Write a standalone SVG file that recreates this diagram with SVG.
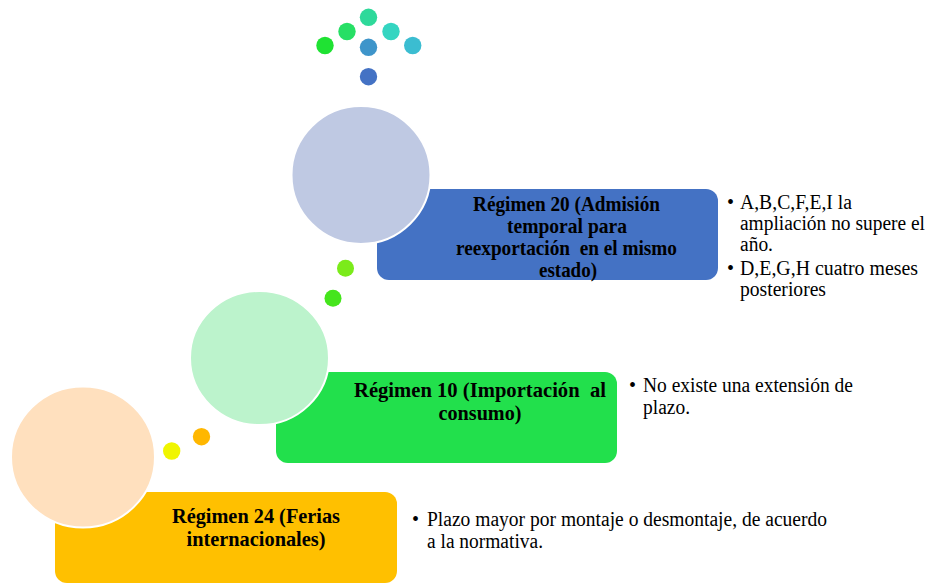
<svg xmlns="http://www.w3.org/2000/svg" width="931" height="583" viewBox="0 0 931 583">
<style>
.bold{font-family:'Liberation Serif','DejaVu Serif',serif;font-weight:700;font-size:21px;fill:#000;text-anchor:middle}
.bold2{font-family:'Liberation Serif','DejaVu Serif',serif;font-weight:700;font-size:22px;fill:#000;text-anchor:middle}
.reg{font-family:'Liberation Serif','DejaVu Serif',serif;font-size:20px;fill:#000}
.circ{stroke:#fff;stroke-width:2}
</style>
<rect width="931" height="583" fill="#fff"/>
<g id="connectors">
<circle cx="325" cy="45.5" r="8.7" fill="#1FE233"/>
<circle cx="347" cy="31.5" r="8.7" fill="#27DF65"/>
<circle cx="368.5" cy="17.3" r="8.7" fill="#2ED99A"/>
<circle cx="391" cy="31.5" r="8.7" fill="#34D5C1"/>
<circle cx="412.7" cy="45.5" r="8.7" fill="#3BBDD1"/>
<circle cx="368.5" cy="47.3" r="8.7" fill="#3E95CA"/>
<circle cx="368.5" cy="76.7" r="8.7" fill="#4472C4"/>
<circle cx="345.5" cy="268.3" r="8.5" fill="#7BEB1A"/>
<circle cx="333" cy="298.3" r="8.5" fill="#45E51C"/>
<circle cx="201.5" cy="436.7" r="8.7" fill="#FFB700"/>
<circle cx="171.7" cy="451" r="8.7" fill="#F0F500"/>
</g>
<g id="node-regimen20">
<rect x="377" y="189" width="341" height="91" rx="12" fill="#4472C4"/>
<ellipse class="circ" cx="361" cy="175" rx="69.5" ry="69" fill="#BFC9E3"/>
<text class="bold" x="566.5" y="211" textLength="187" lengthAdjust="spacingAndGlyphs">Régimen 20 (Admisión</text>
<text class="bold" x="567" y="233" textLength="120" lengthAdjust="spacingAndGlyphs">temporal para</text>
<text class="bold" x="566.5" y="255" textLength="221" lengthAdjust="spacingAndGlyphs" xml:space="preserve">reexportación  en el mismo</text>
<text class="bold" x="568" y="277" textLength="58" lengthAdjust="spacingAndGlyphs">estado)</text>
</g>
<g id="note-regimen20">
<text class="reg" x="727" y="209">•</text>
<text class="reg" x="740" y="209" textLength="112" lengthAdjust="spacingAndGlyphs">A,B,C,F,E,I la</text>
<text class="reg" x="740" y="230" textLength="185" lengthAdjust="spacingAndGlyphs">ampliación no supere el</text>
<text class="reg" x="740" y="251" textLength="33" lengthAdjust="spacingAndGlyphs">año.</text>
<text class="reg" x="727" y="275">•</text>
<text class="reg" x="740" y="275" textLength="178" lengthAdjust="spacingAndGlyphs">D,E,G,H cuatro meses</text>
<text class="reg" x="740" y="296" textLength="86" lengthAdjust="spacingAndGlyphs">posteriores</text>
</g>
<g id="node-regimen10">
<rect x="276" y="372" width="341" height="91" rx="12" fill="#22E04C"/>
<ellipse class="circ" cx="259.5" cy="358" rx="69.5" ry="67" fill="#BCF3CC"/>
<text class="bold2" x="480" y="397" textLength="252" lengthAdjust="spacingAndGlyphs" xml:space="preserve">Régimen 10 (Importación  al</text>
<text class="bold2" x="480" y="420" textLength="83" lengthAdjust="spacingAndGlyphs">consumo)</text>
</g>
<g id="note-regimen10">
<text class="reg" x="629" y="392">•</text>
<text class="reg" x="643" y="392" textLength="210" lengthAdjust="spacingAndGlyphs">No existe una extensión de</text>
<text class="reg" x="643" y="414" textLength="47" lengthAdjust="spacingAndGlyphs">plazo.</text>
</g>
<g id="node-regimen24">
<rect x="55" y="492" width="342" height="91" rx="12" fill="#FFC000"/>
<ellipse class="circ" cx="83" cy="457" rx="72" ry="70.5" fill="#FFE0BE"/>
<text class="bold2" x="256" y="523" textLength="168" lengthAdjust="spacingAndGlyphs">Régimen 24 (Ferias</text>
<text class="bold2" x="256" y="546" textLength="139" lengthAdjust="spacingAndGlyphs">internacionales)</text>
</g>
<g id="note-regimen24">
<text class="reg" x="412" y="526">•</text>
<text class="reg" x="427" y="526" textLength="400" lengthAdjust="spacingAndGlyphs">Plazo mayor por montaje o desmontaje, de acuerdo</text>
<text class="reg" x="427" y="548" textLength="116" lengthAdjust="spacingAndGlyphs">a la normativa.</text>
</g>
</svg>
